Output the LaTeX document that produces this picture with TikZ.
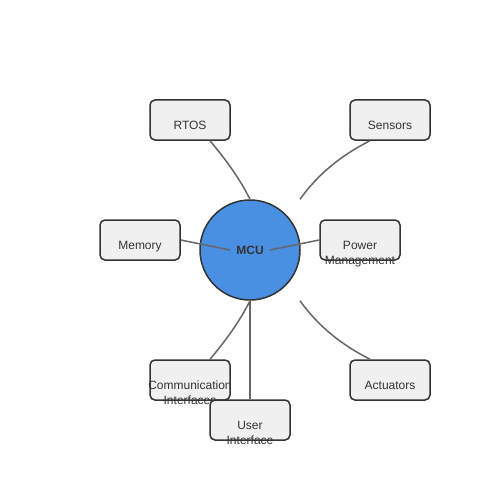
\documentclass[tikz,border=0pt]{standalone}
\usepackage{fontspec}
\setmainfont{Liberation Sans}
\begin{document}
\begin{tikzpicture}[x=1pt,y=-1pt,
  box/.style={draw=boxline,fill=boxfill,line width=1.5pt,rounded corners=5pt,minimum width=80pt,minimum height=40pt,inner sep=0pt},
  lbl/.style={anchor=base,inner sep=0pt,text=txt,font=\fontsize{12pt}{15pt}\selectfont},
  link/.style={draw=linkc,line width=1.5pt}]
\definecolor{boxline}{HTML}{333333}
\definecolor{boxfill}{HTML}{F0F0F0}
\definecolor{txt}{HTML}{333333}
\definecolor{linkc}{HTML}{666666}
\definecolor{mcufill}{HTML}{4A90E2}
\useasboundingbox (0,0) rectangle (500,500);
% central node
\node[circle,draw=boxline,fill=mcufill,line width=1.5pt,minimum size=100pt,inner sep=0pt] (mcu) at (250,250) {};
% boxes (empty; labels placed separately)
\node[box] (rtos) at (190,120) {};
\node[box] (sens) at (390,120) {};
\node[box] (mem) at (140,240) {};
\node[box] (pow) at (360,240) {};
\node[box] (act) at (390,380) {};
% connectors
\draw[link] ([xshift=20pt]rtos.south) .. controls +(16.4,19.5) and +(-10.3,-20.5) .. (mcu.north);
\draw[link] ([xshift=-20pt]sens.south) .. controls +(-28.4,14.4) and +(18.3,-25.6) .. ([xshift=50pt]mcu.north);
\draw[link] (mem.east) -- ([xshift=-20pt]mcu.center);
\draw[link] (pow.west) -- ([xshift=20pt]mcu.center);
\draw[link] ([xshift=-20pt]act.north) .. controls +(-28.4,-14.4) and +(18.3,25.6) .. ([xshift=50pt]mcu.south);
% labels
\node[lbl,font=\bfseries\fontsize{12pt}{15pt}\selectfont] (mculbl) at ([yshift=-4.5pt]mcu.center) {MCU};
\node[lbl] (rtoslbl) at ([yshift=-9.5pt]rtos.center) {RTOS};
\node[lbl] (senslbl) at ([yshift=-9.5pt]sens.center) {Sensors};
\node[lbl] (memlbl) at ([yshift=-9.5pt]mem.center) {Memory};
\node[lbl] (powlbl) at ([yshift=-9.5pt]pow.center) {Power};
\node[lbl] (powlblb) at ([yshift=-24.5pt]pow.center) {Management};
\node[lbl] (actlbl) at ([yshift=-9.5pt]act.center) {Actuators};
% communication interfaces
\node[box] (comm) at (190,380) {};
\draw[link] ([xshift=20pt]comm.north) .. controls +(16.4,-19.5) and +(-10.3,20.5) .. (mcu.south);
\node[lbl] (commlbl) at ([yshift=-9.5pt]comm.center) {Communication};
\node[lbl] (commlblb) at ([yshift=-24.5pt]comm.center) {Interfaces};
% user interface
\node[box] (ui) at (250,420) {};
\draw[link] (mcu.south) -- (ui.north);
\node[lbl] (uilbl) at ([yshift=-9.5pt]ui.center) {User};
\node[lbl] (uilblb) at ([yshift=-24.5pt]ui.center) {Interface};
\end{tikzpicture}
\end{document}
